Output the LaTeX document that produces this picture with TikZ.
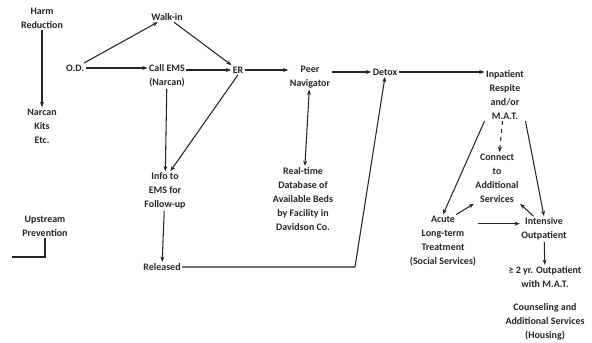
\documentclass[tikz,border=0pt]{standalone}
\usepackage{fontspec}
\setmainfont{Carlito}
\usetikzlibrary{positioning,arrows.meta}

\begin{document}
\begin{tikzpicture}[x=0.02646cm, y=-0.02646cm,
    lbl/.style={font=\bfseries\fontsize{7.5}{10.5}\selectfont, text=black!85, align=center, inner sep=1pt},
    arr/.style={-{Stealth[length=4pt,width=3pt]}, thick, black!85},
    arrboth/.style={{Stealth[length=4pt,width=3pt]}-{Stealth[length=4pt,width=3pt]}, thick, black!85}]
  \useasboundingbox (0,0) rectangle (592,343);

  % Left column
  \node[lbl] (harm) at (42,18) {Harm\\Reduction};
  \node[lbl] (narcan) at (42,126) {Narcan\\Kits\\Etc.};
  \node[lbl] (upstream) at (45,226) {Upstream\\Prevention};
  \coordinate (upend) at (12,257);

  % Entry points
  \node[lbl] (od) at (75,68) {O.D.};
  \node[lbl] (walk) at (167,17) {Walk-in};
  \node[lbl] (ems) at (167,76) {Call EMS\\(Narcan)};
  \node[lbl] (er) at (238,70) {ER};
  \node[lbl] (info) at (165,191) {Info to\\EMS for\\Follow-up};
  \node[lbl] (released) at (162,267) {Released};
  \coordinate (bend) at (355,267);

  % Navigation
  \node[lbl] (peer) at (310,77) {Peer\\Navigator};
  \node[lbl] (beds) at (303,199) {Real-time\\Database of\\Available Beds\\by Facility in\\Davidson Co.};
  \node[lbl] (detox) at (385,72) {Detox};

  % Treatment
  \node[lbl] (inpat) at (505,95) {Inpatient\\Respite\\and/or\\M.A.T.};
  \node[lbl] (connect) at (497,178) {Connect\\to\\Additional\\Services};
  \node[lbl] (acute) at (443,241) {Acute\\Long-term\\Treatment\\(Social Services)};
  \node[lbl] (intens) at (544,229) {Intensive\\Outpatient};
  \node[lbl] (twoyr) at (545,277) {≥ 2 yr. Outpatient\\with M.A.T.};
  \node[lbl] (couns) at (545,322) {Counseling and\\Additional Services\\(Housing)};

  % Connectors
  \draw[arr] (harm) -- (narcan);
  \draw[thick, black!85] (upstream.south) |- (upend);
  \draw[arr] (od) -- (walk);
  \draw[arr] (od) -- (od -| ems.west);
  \draw[arr] (walk) -- (er);
  \draw[arr] (er -| ems.east) -- (er);
  \draw[arr] (ems) -- (info);
  \draw[arr] (er.south) -- ([xshift=4]info.north);
  \draw[arr] (info) -- (released);
  \draw[arr] (released.east) -- (bend) -- (detox.south);
  \draw[arr] (er) -- (er -| peer.west);
  \draw[arrboth] (beds) -- (peer);
  \draw[arr] (peer.north east |- detox) -- (detox);
  \draw[arr] (detox) -- (detox -| inpat.west);
  \draw[arr, dashed] (inpat) -- (connect);
  \draw[arr] (inpat.south west) -- (acute.north);
  \draw[arr] (inpat.south east) -- (intens.north);
  \draw[arr] ([xshift=10]acute.north) -- (connect.south west);
  \draw[arr] ([xshift=-8]intens.north) -- (connect.south east);
  \draw[arr] ([yshift=4pt]acute.east |- intens.west) -- ([yshift=4pt]intens.west);
  \draw[arr] (intens) -- (twoyr);
\end{tikzpicture}
\end{document}
